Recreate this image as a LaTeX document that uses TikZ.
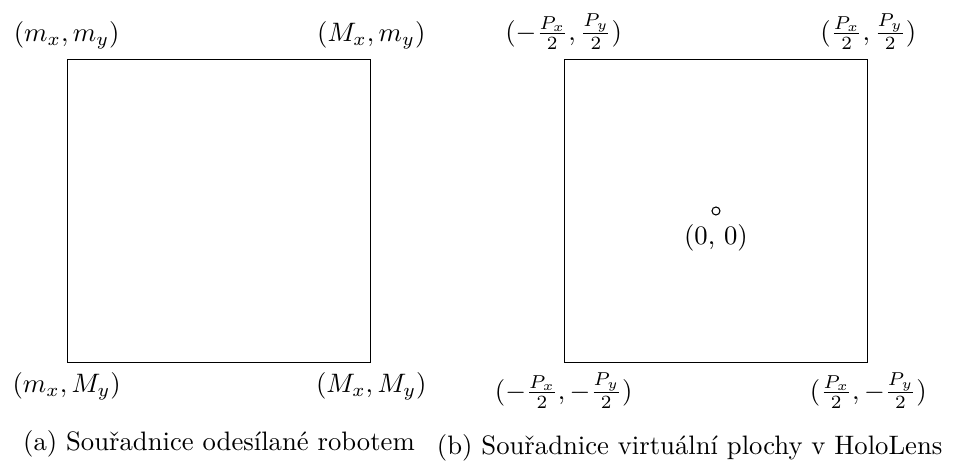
\documentclass[tikz,border=0pt]{standalone}
\usepackage{amsmath}
\usepackage{fontspec}
\usetikzlibrary{positioning}

\begin{document}
\begin{tikzpicture}[
            plocha/.style={rectangle, draw, minimum size=4cm, inner sep=0pt},
            stred/.style={circle, draw, minimum size=3pt, inner sep=0pt}]

            \useasboundingbox (0,0) rectangle (12.648,6.166);

            \node[plocha] (A) at (2.885, 3.386) {};
            \node[above] (Amm) at (A.north west) {$(m_x, m_y)$};
            \node[above] (AMm) at (A.north east) {$(M_x, m_y)$};
            \node[below] (AmM) at (A.south west) {$(m_x, M_y)$};
            \node[below] (AMM) at (A.south east) {$(M_x, M_y)$};
            \node (popisA) at (2.885, 0.316) {(a) Souřadnice odesílané robotem};

            \node[plocha] (B) at (9.433, 3.386) {};
            \node[above] (Bmp) at (B.north west) {$(-\frac{P_x}{2}, \frac{P_y}{2})$};
            \node[above] (Bpp) at (B.north east) {$(\frac{P_x}{2}, \frac{P_y}{2})$};
            \node[below] (Bmm) at (B.south west) {$(-\frac{P_x}{2}, -\frac{P_y}{2})$};
            \node[below] (Bpm) at (B.south east) {$(\frac{P_x}{2}, -\frac{P_y}{2})$};
            \node[stred] (S) at (B.center) {};
            \node[below=0pt of S] (pocatek) {(0, 0)};
            \node[anchor=east] (popisB) at (12.54, 0.26) {(b) Souřadnice virtuální plochy v HoloLens};
        \end{tikzpicture}
\end{document}
